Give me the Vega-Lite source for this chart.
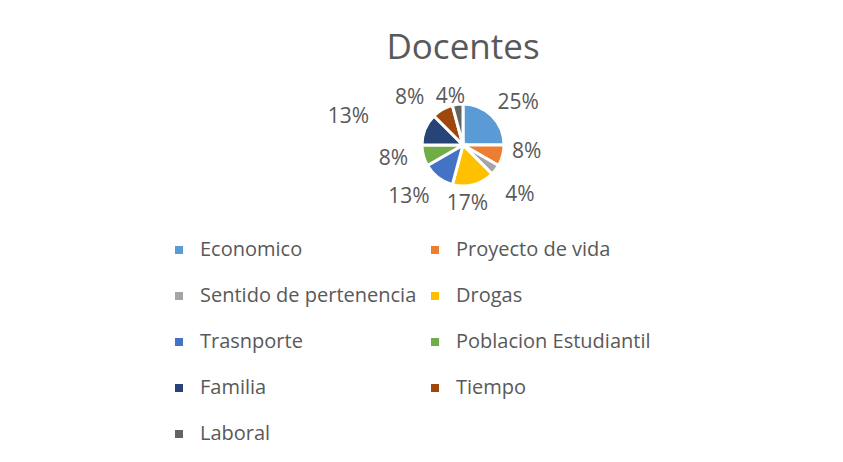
{
  "$schema": "https://vega.github.io/schema/vega-lite/v6.json",
  "width": 758,
  "height": 290,
  "autosize": "none",
  "padding": {"left": 84, "top": 0, "right": 1, "bottom": 172},
  "background": "white",
  "config": {"view": {"stroke": null}, "font": "Open Sans", "text": {"fontSize": 21, "fill": "#595959", "font": "Open Sans"}},
  "title": {"text": "Docentes", "fontSize": 35, "fontWeight": "normal", "color": "#595959", "font": "Open Sans", "anchor": "middle", "offset": -66},
  "data": {"values": [
    {"categoria": "Economico", "valor": 6, "etiqueta": "25%", "orden": 1},
    {"categoria": "Proyecto de vida", "valor": 2, "etiqueta": "8%", "orden": 2},
    {"categoria": "Sentido de pertenencia", "valor": 1, "etiqueta": "4%", "orden": 3},
    {"categoria": "Drogas", "valor": 4, "etiqueta": "17%", "orden": 4},
    {"categoria": "Trasnporte", "valor": 3, "etiqueta": "13%", "orden": 5},
    {"categoria": "Poblacion Estudiantil", "valor": 2, "etiqueta": "8%", "orden": 6},
    {"categoria": "Familia", "valor": 3, "etiqueta": "13%", "orden": 7},
    {"categoria": "Tiempo", "valor": 2, "etiqueta": "8%", "orden": 8},
    {"categoria": "Laboral", "valor": 1, "etiqueta": "4%", "orden": 9}
  ]},
  "encoding": {
    "theta": {"field": "valor", "type": "quantitative", "stack": true},
    "order": {"field": "orden", "type": "quantitative"}
  },
  "layer": [
    {
      "mark": {"type": "arc", "outerRadius": 41, "stroke": "white", "strokeWidth": 3},
      "encoding": {
        "color": {
          "field": "categoria", "type": "nominal",
          "scale": {
            "domain": ["Economico", "Proyecto de vida", "Sentido de pertenencia", "Drogas", "Trasnporte", "Poblacion Estudiantil", "Familia", "Tiempo", "Laboral"],
            "range": ["#5B9BD5", "#ED7D31", "#A5A5A5", "#FFC000", "#4472C4", "#70AD47", "#264478", "#9E480E", "#636363"]
          },
          "legend": {
            "title": null, "orient": "none", "legendX": 85, "legendY": 240,
            "direction": "horizontal", "columns": 2, "symbolType": "square", "symbolSize": 64, "symbolStrokeWidth": 0,
            "labelFontSize": 20, "labelColor": "#595959", "labelFont": "Open Sans", "labelLimit": 400,
            "labelOffset": 11, "rowPadding": 26, "columnPadding": 8
          }
        }
      }
    },
    {
      "mark": {"type": "text", "radius": 69, "thetaOffset": 0.14},
      "encoding": {"text": {"field": "etiqueta"}, "opacity": {"condition": {"test": "datum.categoria == 'Economico'", "value": 1}, "value": 0}}
    },
    {
      "mark": {"type": "text", "radius": 64, "thetaOffset": -0.157},
      "encoding": {"text": {"field": "etiqueta"}, "opacity": {"condition": {"test": "datum.categoria == 'Proyecto de vida'", "value": 1}, "value": 0}}
    },
    {
      "mark": {"type": "text", "radius": 76, "thetaOffset": 0.068},
      "encoding": {"text": {"field": "etiqueta"}, "opacity": {"condition": {"test": "datum.categoria == 'Sentido de pertenencia'", "value": 1}, "value": 0}}
    },
    {
      "mark": {"type": "text", "radius": 59, "thetaOffset": 0.187},
      "encoding": {"text": {"field": "etiqueta"}, "opacity": {"condition": {"test": "datum.categoria == 'Drogas'", "value": 1}, "value": 0}}
    },
    {
      "mark": {"type": "text", "radius": 75, "thetaOffset": 0.152},
      "encoding": {"text": {"field": "etiqueta"}, "opacity": {"condition": {"test": "datum.categoria == 'Trasnporte'", "value": 1}, "value": 0}}
    },
    {
      "mark": {"type": "text", "radius": 71, "thetaOffset": 0.059},
      "encoding": {"text": {"field": "etiqueta"}, "opacity": {"condition": {"test": "datum.categoria == 'Poblacion Estudiantil'", "value": 1}, "value": 0}}
    },
    {
      "mark": {"type": "text", "radius": 118, "thetaOffset": -0.15},
      "encoding": {"text": {"field": "etiqueta"}, "opacity": {"condition": {"test": "datum.categoria == 'Familia'", "value": 1}, "value": 0}}
    },
    {
      "mark": {"type": "text", "radius": 71, "thetaOffset": -0.328},
      "encoding": {"text": {"field": "etiqueta"}, "opacity": {"condition": {"test": "datum.categoria == 'Tiempo'", "value": 1}, "value": 0}}
    },
    {
      "mark": {"type": "text", "radius": 50, "thetaOffset": -0.124},
      "encoding": {"text": {"field": "etiqueta"}, "opacity": {"condition": {"test": "datum.categoria == 'Laboral'", "value": 1}, "value": 0}}
    }
  ]
}
